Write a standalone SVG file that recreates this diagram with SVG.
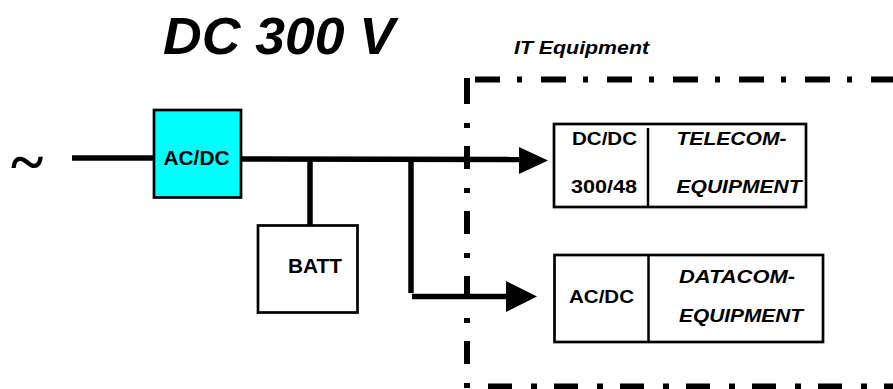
<svg xmlns="http://www.w3.org/2000/svg" width="893" height="389" viewBox="0 0 893 389">
<style>
.t{font-family:"Liberation Sans",Arial,sans-serif;font-weight:bold;fill:#000}
.i{font-style:italic}
.box{fill:#fff;stroke:#000;stroke-width:2.7}
.wire{stroke:#000;stroke-width:5.5;fill:none}
.dash{stroke:#000;stroke-width:6;fill:none}
</style>
<rect width="893" height="389" fill="#fff"/>
<g id="labels">
<text class="t i" x="163" y="54" font-size="52" textLength="232" lengthAdjust="spacingAndGlyphs">DC 300 V</text>
<text class="t i" x="514" y="54" font-size="19" textLength="135" lengthAdjust="spacingAndGlyphs">IT Equipment</text>
<text x="27" y="182" font-family="Liberation Serif,serif" font-weight="bold" font-size="62" text-anchor="middle">~</text>
</g>
<g id="boundary">
<line class="dash" x1="475" y1="79.5" x2="893" y2="79.5" stroke-dasharray="25 17 5 19"/>
<line class="dash" x1="467" y1="78" x2="467" y2="389" stroke-dasharray="26 19 5 18 23 19 5 18 23 19 5 18 23 19 5 18 23 19 5 18 23 19 5 18"/>
<line class="dash" x1="488" y1="386.5" x2="893" y2="386.5" stroke-dasharray="24 19 6 17"/>
</g>
<g id="connectors">
<line class="wire" x1="72" y1="158" x2="154" y2="158"/>
<line class="wire" x1="242" y1="159" x2="521" y2="159.5"/>
<polygon points="519,147 548,160.5 519,174" fill="#000"/>
<line class="wire" x1="310" y1="159" x2="310" y2="226"/>
<line class="wire" x1="411" y1="159" x2="411" y2="293"/>
<line class="wire" x1="412" y1="296.5" x2="508" y2="296.5"/>
<polygon points="506,281 537,296.5 506,312" fill="#000"/>
</g>
<g id="acdc">
<rect x="154" y="110" width="87" height="87.5" fill="#00ffff" stroke="#000" stroke-width="2.7"/>
<text class="t" x="163.5" y="165" font-size="20" textLength="66" lengthAdjust="spacingAndGlyphs">AC/DC</text>
</g>
<g id="batt">
<rect class="box" x="258" y="225.5" width="99.5" height="87"/>
<text class="t" x="288" y="273" font-size="19.5" textLength="54" lengthAdjust="spacingAndGlyphs">BATT</text>
</g>
<g id="telecom">
<rect class="box" x="554" y="124" width="252" height="83"/>
<line x1="648" y1="128" x2="648" y2="207" stroke="#000" stroke-width="2.5"/>
<text class="t" x="572" y="145" font-size="19" textLength="65" lengthAdjust="spacingAndGlyphs">DC/DC</text>
<text class="t" x="571" y="193" font-size="19" textLength="66" lengthAdjust="spacingAndGlyphs">300/48</text>
<text class="t i" x="676.5" y="145" font-size="19" textLength="110" lengthAdjust="spacingAndGlyphs">TELECOM-</text>
<text class="t i" x="676.5" y="193" font-size="19" textLength="125" lengthAdjust="spacingAndGlyphs">EQUIPMENT</text>
</g>
<g id="datacom">
<rect class="box" x="554.5" y="255" width="268.5" height="87"/>
<line x1="648.5" y1="255" x2="648.5" y2="342" stroke="#000" stroke-width="2.5"/>
<text class="t" x="569" y="303" font-size="19" textLength="65" lengthAdjust="spacingAndGlyphs">AC/DC</text>
<text class="t i" x="679" y="282.5" font-size="19" textLength="116" lengthAdjust="spacingAndGlyphs">DATACOM-</text>
<text class="t i" x="679" y="322" font-size="19" textLength="124" lengthAdjust="spacingAndGlyphs">EQUIPMENT</text>
</g>
</svg>
